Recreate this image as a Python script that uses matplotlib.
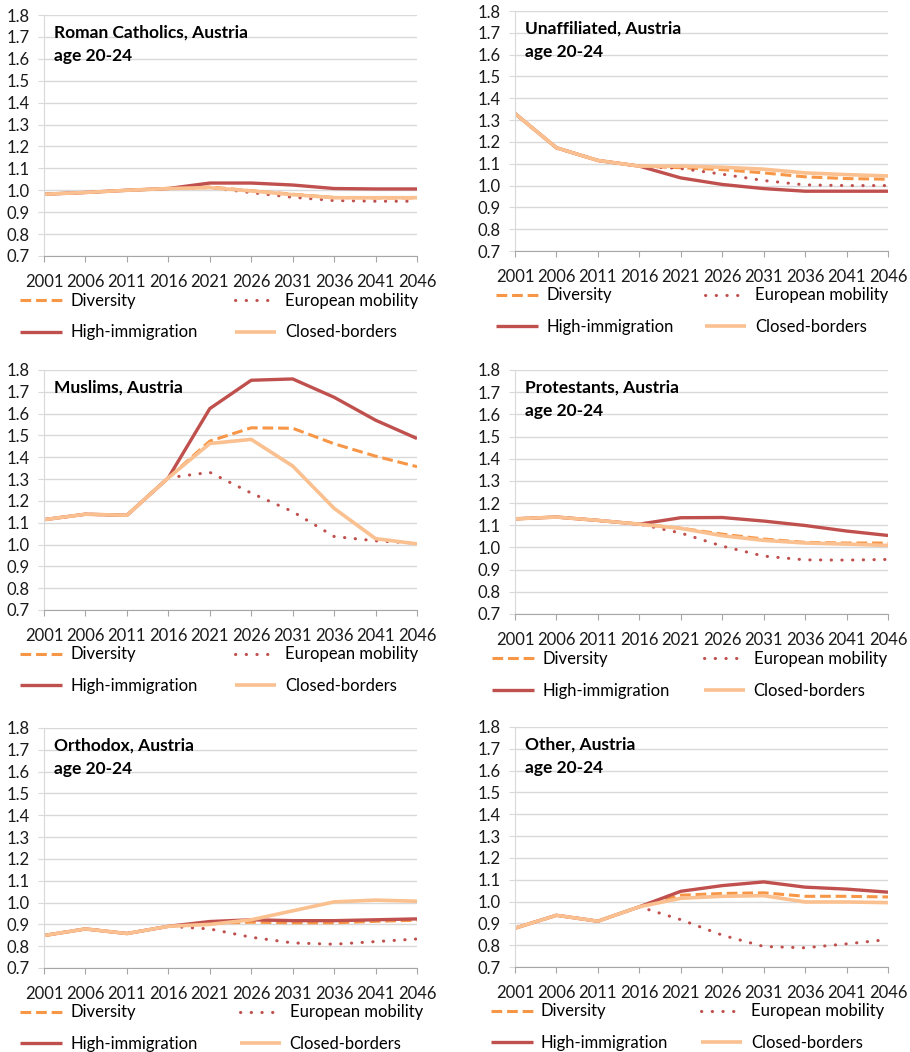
import matplotlib
matplotlib.use('Agg')
import matplotlib.pyplot as plt

years = [2001, 2006, 2011, 2016, 2021, 2026, 2031, 2036, 2041, 2046]
scenarios = ['Diversity', 'European mobility', 'High-immigration', 'Closed-borders']
titles = ['Roman Catholics, Austria\nage 20-24', 'Unaffiliated, Austria\nage 20-24',
          'Muslims, Austria', 'Protestants, Austria\nage 20-24',
          'Orthodox, Austria\nage 20-24', 'Other, Austria\nage 20-24']

# Roman Catholics
cath_div = [0.982, 0.990, 1.000, 1.008, 1.015, 0.998, 0.982, 0.967, 0.965, 0.965]
cath_eu = [0.982, 0.990, 1.000, 1.008, 1.012, 0.989, 0.968, 0.953, 0.950, 0.950]
cath_high = [0.982, 0.990, 1.000, 1.008, 1.033, 1.033, 1.024, 1.008, 1.006, 1.006]
cath_closed = [0.982, 0.990, 1.000, 1.008, 1.012, 0.997, 0.980, 0.966, 0.966, 0.966]
# Unaffiliated
unaf_div = [1.330, 1.173, 1.115, 1.089, 1.082, 1.073, 1.058, 1.040, 1.032, 1.029]
unaf_eu = [1.330, 1.173, 1.115, 1.089, 1.078, 1.052, 1.023, 1.003, 1.000, 1.000]
unaf_high = [1.330, 1.173, 1.115, 1.089, 1.035, 1.005, 0.986, 0.974, 0.974, 0.974]
unaf_closed = [1.330, 1.173, 1.115, 1.089, 1.089, 1.084, 1.075, 1.058, 1.050, 1.044]
# Muslims
musl_div = [1.114, 1.139, 1.134, 1.306, 1.474, 1.535, 1.533, 1.462, 1.405, 1.357]
musl_eu = [1.114, 1.139, 1.134, 1.306, 1.331, 1.236, 1.151, 1.037, 1.017, 1.006]
musl_high = [1.114, 1.139, 1.134, 1.306, 1.623, 1.753, 1.759, 1.675, 1.570, 1.486]
musl_closed = [1.114, 1.139, 1.134, 1.306, 1.463, 1.482, 1.360, 1.166, 1.027, 1.003]
# Protestants
prot_div = [1.129, 1.137, 1.122, 1.105, 1.087, 1.060, 1.038, 1.023, 1.020, 1.020]
prot_eu = [1.129, 1.137, 1.122, 1.105, 1.065, 1.006, 0.961, 0.944, 0.943, 0.946]
prot_high = [1.129, 1.137, 1.122, 1.105, 1.134, 1.135, 1.119, 1.099, 1.074, 1.054]
prot_closed = [1.129, 1.137, 1.122, 1.105, 1.086, 1.053, 1.032, 1.020, 1.015, 1.009]
# Orthodox
orth_div = [0.849, 0.879, 0.858, 0.891, 0.905, 0.910, 0.907, 0.907, 0.914, 0.919]
orth_eu = [0.849, 0.879, 0.858, 0.891, 0.879, 0.841, 0.815, 0.809, 0.821, 0.833]
orth_high = [0.849, 0.879, 0.858, 0.891, 0.913, 0.921, 0.917, 0.917, 0.921, 0.925]
orth_closed = [0.849, 0.879, 0.858, 0.891, 0.900, 0.921, 0.962, 1.003, 1.011, 1.006]
# Other
oth_div = [0.878, 0.937, 0.910, 0.976, 1.029, 1.037, 1.040, 1.024, 1.024, 1.021]
oth_eu = [0.878, 0.937, 0.910, 0.976, 0.917, 0.846, 0.794, 0.788, 0.806, 0.826]
oth_high = [0.878, 0.937, 0.910, 0.976, 1.047, 1.073, 1.090, 1.066, 1.057, 1.043]
oth_closed = [0.878, 0.937, 0.910, 0.976, 1.015, 1.024, 1.027, 0.998, 0.998, 0.995]

panels = [
    [cath_div, cath_eu, cath_high, cath_closed],
    [unaf_div, unaf_eu, unaf_high, unaf_closed],
    [musl_div, musl_eu, musl_high, musl_closed],
    [prot_div, prot_eu, prot_high, prot_closed],
    [orth_div, orth_eu, orth_high, orth_closed],
    [oth_div, oth_eu, oth_high, oth_closed],
]
y_ticks = [0.7, 0.8, 0.9, 1.0, 1.1, 1.2, 1.3, 1.4, 1.5, 1.6, 1.7, 1.8]

# look of each scenario
colors = ['#F79646', '#C0504D', '#C0504D', '#FAC090']
styles = [(0, (3.5, 1.6)), (0, (0.1, 3.4)), '-', '-']
widths = [2.2, 2.2, 2.4, 2.6]

# pixel boxes (left, top, right, bottom) and legend x-range
W, H = 910, 1052
boxes = [(44, 15, 417, 256), (515, 11, 888, 251),
         (44, 370, 417, 610), (515, 370, 888, 614),
         (44, 728, 417, 968), (515, 727, 888, 967)]
leg_x = [(20, 418), (496, 888), (20, 418), (492, 887), (20, 423), (491, 884)]

plt.rcParams['font.family'] = ['Lato', 'DejaVu Sans']
fig = plt.figure(figsize=(W / 100, H / 100), dpi=100)

for i, series in enumerate(panels):
    l, t, r, b = boxes[i]
    ax = fig.add_axes([l / W, 1 - b / H, (r - l) / W, (b - t) / H])
    handles = []
    for k, vals in enumerate(series):
        ln, = ax.plot(years, vals, color=colors[k], linestyle=styles[k], lw=widths[k],
                      dash_capstyle='round' if k == 1 else 'butt', solid_capstyle='butt',
                      label=scenarios[k])
        handles.append(ln)
    ax.set_xlim(2001, 2046)
    ax.set_ylim(0.7, 1.8)
    ax.set_xticks(years)
    ax.set_yticks(y_ticks)
    ax.set_yticklabels(['%.1f' % v for v in y_ticks])
    ax.grid(axis='y', color='#D9D9D9', lw=1)
    ax.set_axisbelow(True)
    for s in ['top', 'right']:
        ax.spines[s].set_visible(False)
    ax.spines['left'].set_color('#D9D9D9')
    ax.spines['bottom'].set_color('#A6A6A6')
    ax.tick_params(axis='y', length=4, color='#D9D9D9', pad=6, labelsize=12, labelcolor='#1a1a1a')
    ax.tick_params(axis='x', length=4, color='#A6A6A6', pad=9, labelsize=12, labelcolor='#1a1a1a')
    ax.text(0.027, 0.96, titles[i], transform=ax.transAxes, fontsize=12.5,
            fontweight='bold', va='top', ha='left', linespacing=1.55)

    x0, x1 = leg_x[i]
    order = [handles[0], handles[2], handles[1], handles[3]]
    ax.legend(handles=order, labels=[h.get_label() for h in order], ncol=2,
              loc='upper left', bbox_to_anchor=((x0 - l) / (r - l), -0.152, (x1 - x0) / (r - l), 0),
              mode='expand', frameon=False, fontsize=12, handlelength=2.5,
              handletextpad=0.5, borderpad=0, borderaxespad=0, labelspacing=0.95)

fig.savefig('out.png', dpi=100)
